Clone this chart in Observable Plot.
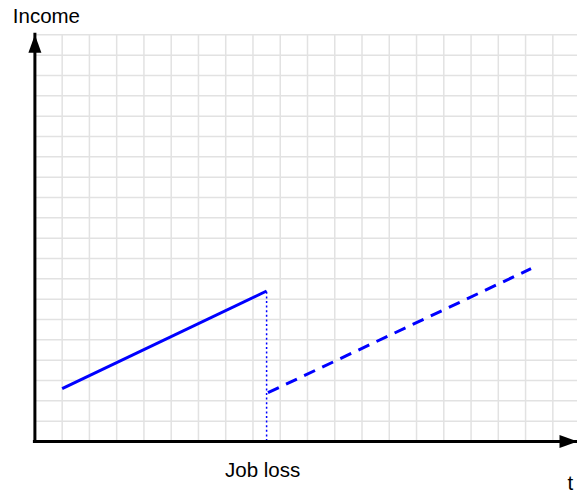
<!DOCTYPE html>
<html>
<head>
<meta charset="utf-8">
<script src="https://cdn.jsdelivr.net/npm/d3@7"></script>
<script src="https://cdn.jsdelivr.net/npm/@observablehq/plot@0.6"></script>
<style>
  html, body { margin: 0; padding: 0; background: white; }
  #chart { width: 577px; height: 495px; }
</style>
</head>
<body>
<div id="chart"></div>
<script>
// --- data (grid units) ---
const tBefore = [1.0, 8.5];        // income path before job loss (solid)
const incomeBefore = [2.6, 7.4];
const tAfter = [8.55, 18.2];       // income path after job loss (dashed)
const incomeAfter = [2.4, 8.5];
const jobLossT = 8.5;              // time of job loss (dotted marker)
const gridTicksX = [0,1,2,3,4,5,6,7,8,9,10,11,12,13,14,15,16,17,18,19];
const gridTicksY = [0,1,2,3,4,5,6,7,8,9,10,11,12,13,14,15,16,17,18,19,20];
const xLabel = "t";
const yLabel = "Income";
const eventLabel = "Job loss";

const xMax = 19.905, yMax = 20;

const before = tBefore.map((t, i) => ({t, income: incomeBefore[i]}));
const after = tAfter.map((t, i) => ({t, income: incomeAfter[i]}));

// filled arrowhead symbol (tip at origin, pointing up)
const arrowHead = {
  draw(ctx) {
    ctx.moveTo(0, 0);
    ctx.lineTo(6.5, 18);
    ctx.lineTo(-6.5, 18);
    ctx.closePath();
  }
};

const font = "'Liberation Sans', Arial, Helvetica, sans-serif";

const chart = Plot.plot({
  width: 577,
  height: 495,
  marginLeft: 34.4,
  marginRight: 0,
  marginTop: 34.3,
  marginBottom: 54,
  x: {domain: [0, xMax], axis: null},
  y: {domain: [0, yMax], axis: null},
  style: {fontFamily: font, fontSize: "20.5px", background: "white", color: "black"},
  marks: [
    Plot.gridX(gridTicksX, {stroke: "#e2e2e2", strokeOpacity: 1, strokeWidth: 1.5}),
    Plot.gridY(gridTicksY, {stroke: "#e2e2e2", strokeOpacity: 1, strokeWidth: 1.5}),
    Plot.ruleX([jobLossT], {y1: 0, y2: incomeBefore[incomeBefore.length - 1], stroke: "blue", strokeWidth: 1.5, strokeDasharray: "2,2.6"}),
    Plot.line(before, {x: "t", y: "income", stroke: "blue", strokeWidth: 3, strokeLinecap: "butt"}),
    Plot.line(after, {x: "t", y: "income", stroke: "blue", strokeWidth: 3, strokeLinecap: "butt", strokeDasharray: "12,8"}),
    Plot.ruleX([0], {y1: 0, y2: yMax, stroke: "black", strokeWidth: 3, strokeLinecap: "square"}),
    Plot.ruleY([0], {x1: 0, x2: xMax, stroke: "black", strokeWidth: 3, strokeLinecap: "square"}),
    Plot.dot([{x: 0, y: yMax}], {x: "x", y: "y", symbol: arrowHead, fill: "black", stroke: null}),
    Plot.dot([{x: xMax, y: 0}], {x: "x", y: "y", symbol: arrowHead, fill: "black", stroke: null, rotate: 90}),
    Plot.text([yLabel], {text: d => d, frameAnchor: "top-left", textAnchor: "start", lineAnchor: "bottom", dx: -22.1, dy: -12.3, fill: "black"}),
    Plot.text([xLabel], {text: d => d, frameAnchor: "bottom-right", textAnchor: "start", lineAnchor: "bottom", dx: -10, dy: 48.5, fill: "black"}),
    Plot.text([jobLossT], {x: d => d, text: () => eventLabel, frameAnchor: "bottom", textAnchor: "middle", lineAnchor: "bottom", dx: -4, dy: 35.7, fill: "black"})
  ]
});

document.getElementById("chart").appendChild(chart);
</script>
</body>
</html>
